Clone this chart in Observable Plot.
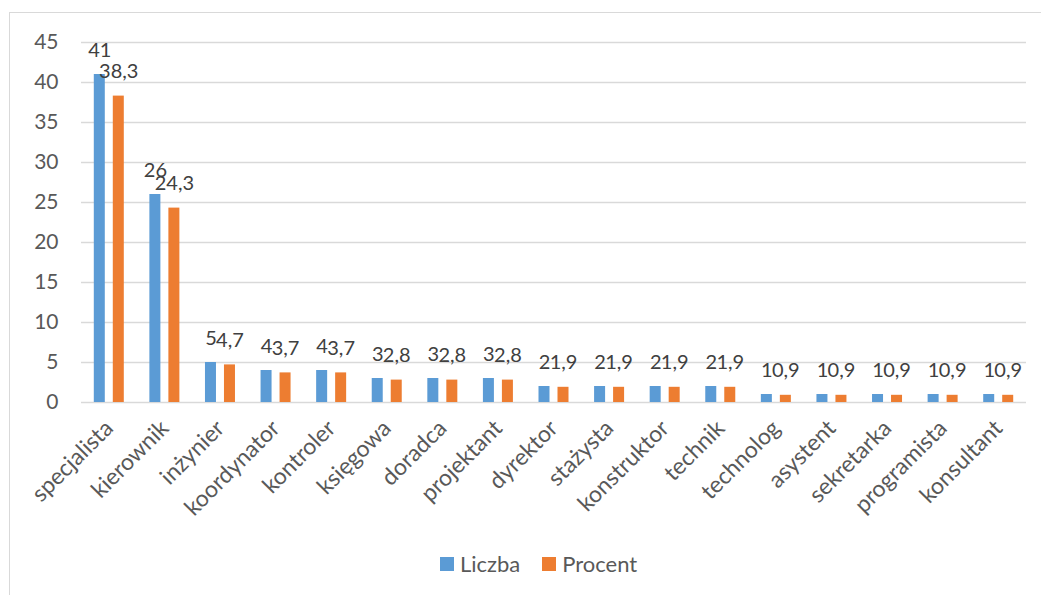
<!DOCTYPE html>
<html><head><meta charset="utf-8">
<script src="https://cdn.jsdelivr.net/npm/d3@7"></script>
<script src="https://cdn.jsdelivr.net/npm/@observablehq/plot@0.6"></script>
<style>
html,body{margin:0;padding:0;overflow:hidden;background:#fff;width:1041px;height:595px}
#frame{position:absolute;left:9px;top:12px;width:1100px;height:700px;border:1.5px solid #d9d9d9;box-sizing:border-box}
#chart{position:absolute;left:0;top:0}
#legend{position:absolute;left:440px;top:550px;display:flex;align-items:center;font-family:Lato,sans-serif;font-size:22px;color:#595959;white-space:nowrap}
.item{display:flex;align-items:center;margin-right:22px}
.sw{width:14px;height:14px;display:inline-block;margin-right:6px}
</style></head><body>
<div id="frame"></div><div id="chart"></div><div id="legend"></div>
<script>
const categories = ["specjalista","kierownik","inżynier","koordynator","kontroler","księgowa","doradca","projektant","dyrektor","stażysta","konstruktor","technik","technolog","asystent","sekretarka","programista","konsultant"];
const liczba  = [41, 26, 5, 4, 4, 3, 3, 3, 2, 2, 2, 2, 1, 1, 1, 1, 1];
const procent = [38.3, 24.3, 4.7, 3.7, 3.7, 2.8, 2.8, 2.8, 1.9, 1.9, 1.9, 1.9, 0.9, 0.9, 0.9, 0.9, 0.9];
const seriesNames = ["Liczba", "Procent"];
const seriesColors = ["#5B9BD5", "#ED7D31"];
const yTicks = [0, 5, 10, 15, 20, 25, 30, 35, 40, 45];

const rows = categories.map((c, i) => ({kat: c, liczba: liczba[i], procent: procent[i]}));
const fmt = v => String(v).replace(".", ",");

const W = 1041, H = 530, mL = 81, mR = 15, mT = 42, mB = 128;
const bw = (W - mL - mR) / categories.length;
const half = bw / 2;
const barW = 11, gap = 8;
const outer = half - (gap / 2 + barW); // inset from band edge to outer bar edge
const inner = half + gap / 2;           // inset from band edge to inner bar edge
const off = gap / 2 + barW / 2;

const chart = Plot.plot({
  width: W, height: H,
  marginLeft: mL, marginRight: mR, marginTop: mT, marginBottom: mB,
  style: {fontFamily: "Lato, sans-serif", color: "#595959", background: "transparent", overflow: "visible"},
  x: {domain: categories, padding: 0, round: false},
  y: {domain: [0, 45]},
  marks: [
    Plot.gridY({ticks: yTicks, stroke: "#d9d9d9", strokeOpacity: 1, strokeWidth: 1.5}),
    Plot.barY(rows, {x: "kat", y: "liczba", fill: seriesColors[0], insetLeft: outer, insetRight: inner}),
    Plot.barY(rows, {x: "kat", y: "procent", fill: seriesColors[1], insetLeft: inner, insetRight: outer}),
    Plot.text(rows, {x: "kat", y: "liczba", text: d => fmt(d.liczba), dx: -off, dy: -18, lineAnchor: "bottom", fontSize: 20, fill: "#404040"}),
    Plot.text(rows, {x: "kat", y: "procent", text: d => fmt(d.procent), dx: off, dy: -18, lineAnchor: "bottom", fontSize: 20, fill: "#404040"}),
    Plot.axisY({ticks: yTicks, tickSize: 0, tickPadding: 23, fontSize: 21, label: null}),
    Plot.axisX({tickRotate: -45, tickSize: 0, tickPadding: 22, fontSize: 23, label: null})
  ]
});
document.getElementById("chart").appendChild(chart);

const legend = document.getElementById("legend");
seriesNames.forEach((n, i) => {
  const it = document.createElement("span");
  it.className = "item";
  const sw = document.createElement("span");
  sw.className = "sw";
  sw.style.background = seriesColors[i];
  it.appendChild(sw);
  it.appendChild(document.createTextNode(n));
  legend.appendChild(it);
});
</script>
</body></html>
